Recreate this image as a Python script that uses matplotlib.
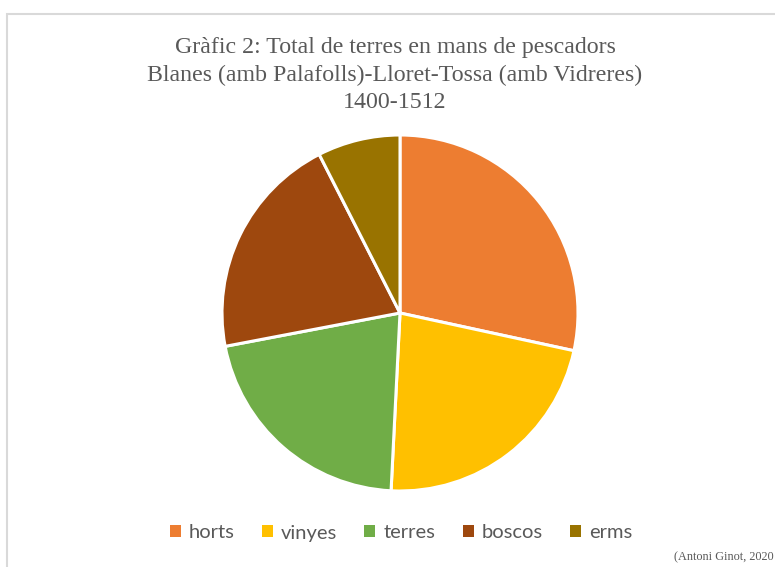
import matplotlib
matplotlib.use("Agg")
import matplotlib.pyplot as plt
from matplotlib.patches import Patch, Rectangle

categories = ["horts", "vinyes", "terres", "boscos", "erms"]
values = [28.4, 22.4, 21.2, 20.5, 7.5]
colors = ["#ED7D31", "#FFC000", "#70AD47", "#9E480E", "#997300"]
title_lines = ["Gràfic 2: Total de terres en mans de pescadors",
               "Blanes (amb Palafolls)-Lloret-Tossa (amb Vidreres)",
               "1400-1512"]
source = "(Antoni Ginot, 2020"

W, H = 775, 567
fig = plt.figure(figsize=(W / 100, H / 100), dpi=100)
fig.patch.set_facecolor("white")

# frame
fig.patches.append(Rectangle((6.5 / W, -0.1), 1.2, (H - 13.5) / H + 0.1,
                             transform=fig.transFigure, fill=False,
                             edgecolor="#D9D9D9", linewidth=1.5))

cx, cy, r = 400, 313, 178
ax = fig.add_axes([(cx - r) / W, (H - cy - r) / H, 2 * r / W, 2 * r / H])
ax.pie(values, colors=colors, startangle=90, counterclock=False,
       wedgeprops=dict(edgecolor="white", linewidth=2.2), radius=1)
ax.set_xlim(-1.0, 1.0)
ax.set_ylim(-1.0, 1.0)
ax.set_aspect("equal")
ax.axis("off")

for i, line in enumerate(title_lines):
    fig.text(395 / W, 1 - (48 + i * 27.5) / H, line, ha="center", va="center",
             family="Liberation Serif", fontsize=17.2, color="#595959")

handles = [Patch(facecolor=c, edgecolor="none", label=l) for c, l in zip(colors, categories)]
fig.legend(handles=handles, loc="center", bbox_to_anchor=(401 / W, 1 - 533 / H),
           ncol=5, frameon=False, handlelength=0.55, handleheight=0.55,
           handletextpad=0.4, columnspacing=1.35,
           prop=dict(family="Lato", size=14.5), labelcolor="#595959")

fig.text(774 / W, 1 - 557 / H, source, ha="right", va="center",
         family="Liberation Serif", fontsize=8.8, color="#595959")

fig.savefig("out.png", dpi=100, facecolor="white")
